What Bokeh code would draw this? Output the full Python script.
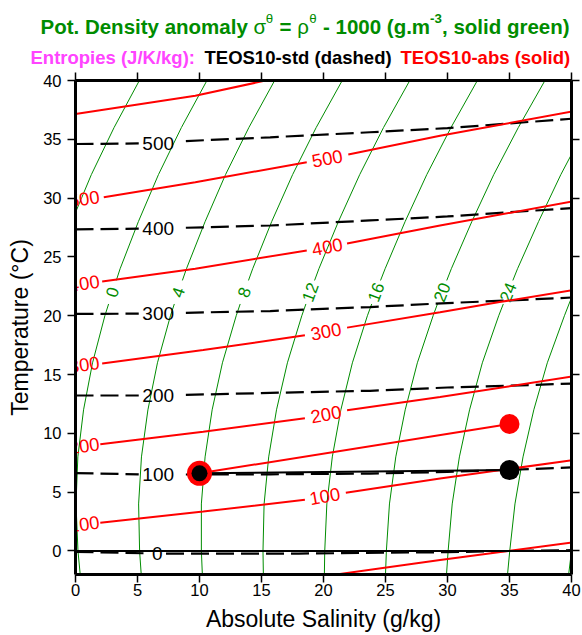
import numpy as np
from bokeh.plotting import figure
from bokeh.layouts import column
from bokeh.models import Range1d, LinearAxis, Span, FixedTicker
from bokeh.core.properties import value
from bokeh.embed import file_html
from bokeh.resources import INLINE

nan = float("nan")
FONT = "Liberation Sans"
GREEN = "#008c00"
RED = "#ff0000"
MAGENTA = "#ff44ff"

# ---------------- data ----------------
ticks = [0, 5, 10, 15, 20, 25, 30, 35, 40]

# potential density anomaly contours (green): S along a common temperature grid
sig_T = [-2, 0, 4, 8, 12, 16, 20, 21, 22, 23, 24, 28, 32, 36, 40]
sig_m4 = [-4.54, -4.78, -5.02, -4.94, -4.54, -3.86, -2.92, -2.64, -2.35, -2.04, -1.74, -0.31, 1.28, 3.11, 5.15]
sig_0 = [0.38, 0.20, 0.04, 0.19, 0.65, 1.375, 2.37, 2.67, nan, 3.29, 3.60, 5.07, 6.69, 8.54, 10.60]
sig_4 = [5.30, 5.17, 5.09, 5.32, 5.84, 6.61, 7.66, 7.97, nan, 8.62, 8.95, 10.45, 12.10, 13.98, 16.06]
sig_8 = [10.23, 10.15, 10.15, 10.45, 11.02, 11.85, 12.96, 13.28, nan, 13.95, 14.29, 15.82, 17.51, 19.41, 21.51]
sig_12 = [15.15, 15.12, 15.21, 15.58, 16.21, 17.09, 18.25, 18.58, nan, 19.28, 19.63, 21.20, 22.92, 24.84, 26.96]
sig_16 = [20.07, 20.10, 20.27, 20.71, 21.40, 22.33, 23.54, 23.89, nan, 24.60, 24.97, 26.58, 28.33, 30.28, 32.41]
sig_20 = [25.00, 25.07, 25.32, 25.83, 26.59, 27.57, 28.84, 29.19, nan, 29.94, 30.31, 31.96, 33.73, 35.71, 37.86]
sig_24 = [29.92, 30.05, 30.38, 30.96, 31.78, 32.81, 34.13, 34.50, nan, 35.27, 35.65, 37.34, 39.14, 41.14, 43.31]
sig_28 = [34.84, 35.02, 35.44, 36.09, 36.96, 38.05, 39.43, 39.80, 40.18, 40.60, 40.99, 42.70, 44.50, 46.50, 48.70]
sig_32 = [39.77, 40.00, 40.49, 41.22, 42.20, nan, nan, nan, nan, nan, nan, nan, nan, nan, nan]

sig_lab = ["0", "4", "8", "12", "16", "20", "24"]
sig_lab_S = [2.96, 8.28, 13.60, 18.92, 24.23, 29.55, 34.87]
sig_lab_T = [22, 22, 22, 22, 22, 22, 22]
sig_lab_ang = [71.9, 71.1, 70.6, 69.7, 69.5, 68.4, 67.9]

# absolute entropy (TEOS10-abs, red solid)
r0_S = [19.0, 29.4, 40.5]
r0_T = [-2.3, -0.76, 0.78]
r100_S = [2.0, 10.3, 18.5, nan, 21.8, 29.4, 40.5]
r100_T = [2.4, 3.35, 4.35, nan, 4.95, 6.17, 7.77]
r200_S = [2.0, 10.3, 18.5, nan, 21.9, 29.4, 40.5]
r200_T = [9.08, 10.13, 11.28, nan, 11.97, 13.1, 14.9]
r300_S = [2.15, 10.3, 18.5, nan, 21.9, 29.4, 34.2, 40.5]
r300_T = [15.93, 17.08, 18.34, nan, 18.99, 20.3, 21.16, 22.25]
r400_S = [2.15, 9.66, 18.65, nan, 21.9, 29.4, 40.5]
r400_T = [22.92, 24.0, 25.55, nan, 26.15, 27.67, 29.8]
r500_S = [2.28, 9.66, 18.65, nan, 22.0, 29.4, 40.5]
r500_T = [30.08, 31.35, 33.05, nan, 33.7, 35.3, 37.45]
r600_S = [0.0, 9.66, 16.0]
r600_T = [37.15, 38.7, 40.15]

r_lab = ["100", "200", "300", "400", "500"]
r_lab_S = [20.1, 20.2, 20.2, 20.3, 20.3]
r_lab_T = [4.65, 11.62, 18.66, 25.85, 33.37]
r_lab_ang = [10.0, 10.5, 10.5, 10.8, 11.0]
r_left_S = [0.7, 0.7, 0.7, 0.7, 0.7]
r_left_T = [2.29, 8.94, 15.85, 22.75, 29.94]
r_left_ang = [7.5, 7.5, 7.5, 8.0, 8.5]

# standard entropy (TEOS10-std, black dashed)
d0_S = [0, 5.9, nan, 7.3, 18, 30, 35, 40]
d0_T = [-0.08, -0.2, nan, -0.22, -0.22, -0.1, 0.0, 0.07]
d_S = [0, 5.1, nan, 8.9, 15.7, 23.75, 30, 35, 40]
d100_T = [6.62, 6.52, nan, 6.5, 6.52, 6.58, 6.72, 6.9, 7.1]
d200_T = [13.22, 13.22, nan, 13.27, 13.44, 13.62, 13.9, 14.05, 14.23]
d300_T = [20.15, 20.18, nan, 20.25, 20.4, 20.74, 21.08, 21.3, 21.55]
d400_T = [27.35, 27.4, nan, 27.48, 27.67, 28.1, 28.44, 28.8, 29.15]
d500_T = [34.6, 34.65, nan, 34.85, 35.17, 35.6, 35.95, 36.35, 36.75]

d_lab = ["0", "100", "200", "300", "400", "500"]
d_lab_S = [6.6, 6.67, 6.67, 6.67, 6.67, 6.67]
d_lab_T = [-0.22, 6.5, 13.2, 20.2, 27.4, 34.62]

# the two water parcels and their mixing lines
mix_S = [10, 35]
mix_T_std = [6.6, 6.88]
mix_T_abs = [6.6, 10.8]

# title texts
title1_parts = ["Pot. Density anomaly", "σ", "θ", "=", "ρ", "θ", "- 1000 (g.m", "-3", ", solid green)"]
title2_parts = ["Entropies (J/K/kg):", "TEOS10-std (dashed)", "TEOS10-abs (solid)"]

# ---------------- title strip (page pixel coordinates) ----------------
tf = figure(width=582, height=70, output_backend="svg", toolbar_location=None, title=None,
            x_range=Range1d(0, 582), y_range=Range1d(70, 0),
            x_axis_type=None, y_axis_type=None, min_border=0)
if "frame_align" in tf.properties():
    tf.frame_align = False
tf.outline_line_color = None
tf.xgrid.visible = False
tf.ygrid.visible = False

t1_x = [40, 253.0, 265.3, 279.1, 296.8, 308.7, 322.5, 429.6, 441.5]
t1_y = [26, 26, 18, 26, 26, 18, 26, 18, 26]
t1_size = ["20.5px", "20.5px", "13.3px", "20.5px", "20.5px", "13.3px", "20.5px", "13.3px", "20.5px"]
t1_style = ["bold", "normal", "normal", "bold", "normal", "normal", "bold", "bold", "bold"]
for x, y, txt, sz, st in zip(t1_x, t1_y, title1_parts, t1_size, t1_style):
    tf.text(x=[x], y=[y], text=[txt], text_font=value(FONT), text_font_size=value(sz),
            text_font_style=st, text_color=GREEN, text_align="left", text_baseline="alphabetic")

t2_x = [30, 204, 400]
t2_col = [MAGENTA, "black", RED]
for x, txt, c in zip(t2_x, title2_parts, t2_col):
    tf.text(x=[x], y=[56.8], text=[txt], text_font=value(FONT), text_font_size=value("18.5px"),
            text_font_style="bold", text_color=c, text_align="left", text_baseline="alphabetic")

# ---------------- main figure ----------------
p = figure(width=582, height=565, output_backend="svg", toolbar_location=None,
           x_range=Range1d(0, 40), y_range=Range1d(-2, 40),
           min_border_left=75, min_border_top=10, min_border_right=11, min_border_bottom=61)
if "frame_align" in p.properties():
    p.frame_align = False
p.xgrid.visible = False
p.ygrid.visible = False
p.outline_line_color = None

def style_axis(ax, labels=True):
    ax.ticker = FixedTicker(ticks=ticks, minor_ticks=[])
    ax.major_tick_in = 0
    ax.major_tick_out = 8
    ax.major_tick_line_width = 1.5
    ax.major_tick_line_color = "black"
    ax.minor_tick_line_color = None
    ax.axis_line_width = 3
    ax.axis_line_color = "black"
    if labels:
        ax.major_label_text_font = FONT
        ax.major_label_text_font_size = "16.5px"
        ax.major_label_text_color = "black"
        ax.axis_label_text_font = FONT
        ax.axis_label_text_font_size = "23px"
        ax.axis_label_text_font_style = "normal"
        ax.axis_label_text_color = "black"
    else:
        ax.major_label_overrides = {t: "" for t in ticks}
        ax.major_label_text_font_size = "0px"
        ax.major_label_standoff = 0

style_axis(p.xaxis[0])
style_axis(p.yaxis[0])
p.xaxis[0].axis_label = "Absolute Salinity (g/kg)"
p.yaxis[0].axis_label = "Temperature (°C)"
p.xaxis[0].major_label_standoff = 1
p.yaxis[0].major_label_standoff = 6
p.xaxis[0].axis_label_standoff = 7
p.yaxis[0].axis_label_standoff = 7
top = LinearAxis()
right = LinearAxis()
style_axis(top, labels=False)
style_axis(right, labels=False)
p.add_layout(top, "above")
p.add_layout(right, "right")

# green density contours
for s in [sig_m4, sig_0, sig_4, sig_8, sig_12, sig_16, sig_20, sig_24, sig_28, sig_32]:
    p.line(s, sig_T, line_color=GREEN, line_width=1)
p.text(x=sig_lab_S, y=sig_lab_T, text=sig_lab, angle=list(np.deg2rad(sig_lab_ang)),
       text_font=value(FONT), text_font_size=value("17px"), text_color=GREEN,
       text_align="center", text_baseline="middle")

# zero line
p.add_layout(Span(location=0, dimension="width", line_color="black", line_width=2))

# black dashed standard entropy
p.line(d0_S, d0_T, line_color="black", line_width=2.2, line_dash="18 7")
for t in [d100_T, d200_T, d300_T, d400_T, d500_T]:
    p.line(d_S, t, line_color="black", line_width=2.2, line_dash="18 7")
p.text(x=d_lab_S, y=d_lab_T, text=d_lab, text_font=value(FONT), text_font_size=value("19px"),
       text_color="black", text_align="center", text_baseline="middle")

# red absolute entropy
for s, t in [(r0_S, r0_T), (r100_S, r100_T), (r200_S, r200_T), (r300_S, r300_T),
             (r400_S, r400_T), (r500_S, r500_T), (r600_S, r600_T)]:
    p.line(s, t, line_color=RED, line_width=2)
p.text(x=r_lab_S, y=r_lab_T, text=r_lab, angle=list(np.deg2rad(r_lab_ang)),
       text_font=value(FONT), text_font_size=value("18.5px"), text_color=RED,
       text_align="center", text_baseline="middle")
p.text(x=r_left_S, y=r_left_T, text=r_lab, angle=list(np.deg2rad(r_left_ang)),
       text_font=value(FONT), text_font_size=value("18.5px"), text_color=RED,
       text_align="center", text_baseline="middle")

# mixing lines and parcels
p.line(mix_S, mix_T_abs, line_color=RED, line_width=2)
p.line(mix_S, mix_T_std, line_color="black", line_width=2)
p.scatter([mix_S[0]], [mix_T_abs[0]], marker="circle", size=25, fill_color=RED, line_color=None)
p.scatter([mix_S[0]], [mix_T_std[0]], marker="circle", size=16, fill_color="black", line_color=None)
p.scatter([mix_S[1]], [mix_T_abs[1]], marker="circle", size=20, fill_color=RED, line_color=None)
p.scatter([mix_S[1]], [mix_T_std[1]], marker="circle", size=20, fill_color="black", line_color=None)

layout = column(tf, p, spacing=0)
open("out.html", "w").write(file_html(layout, INLINE))
